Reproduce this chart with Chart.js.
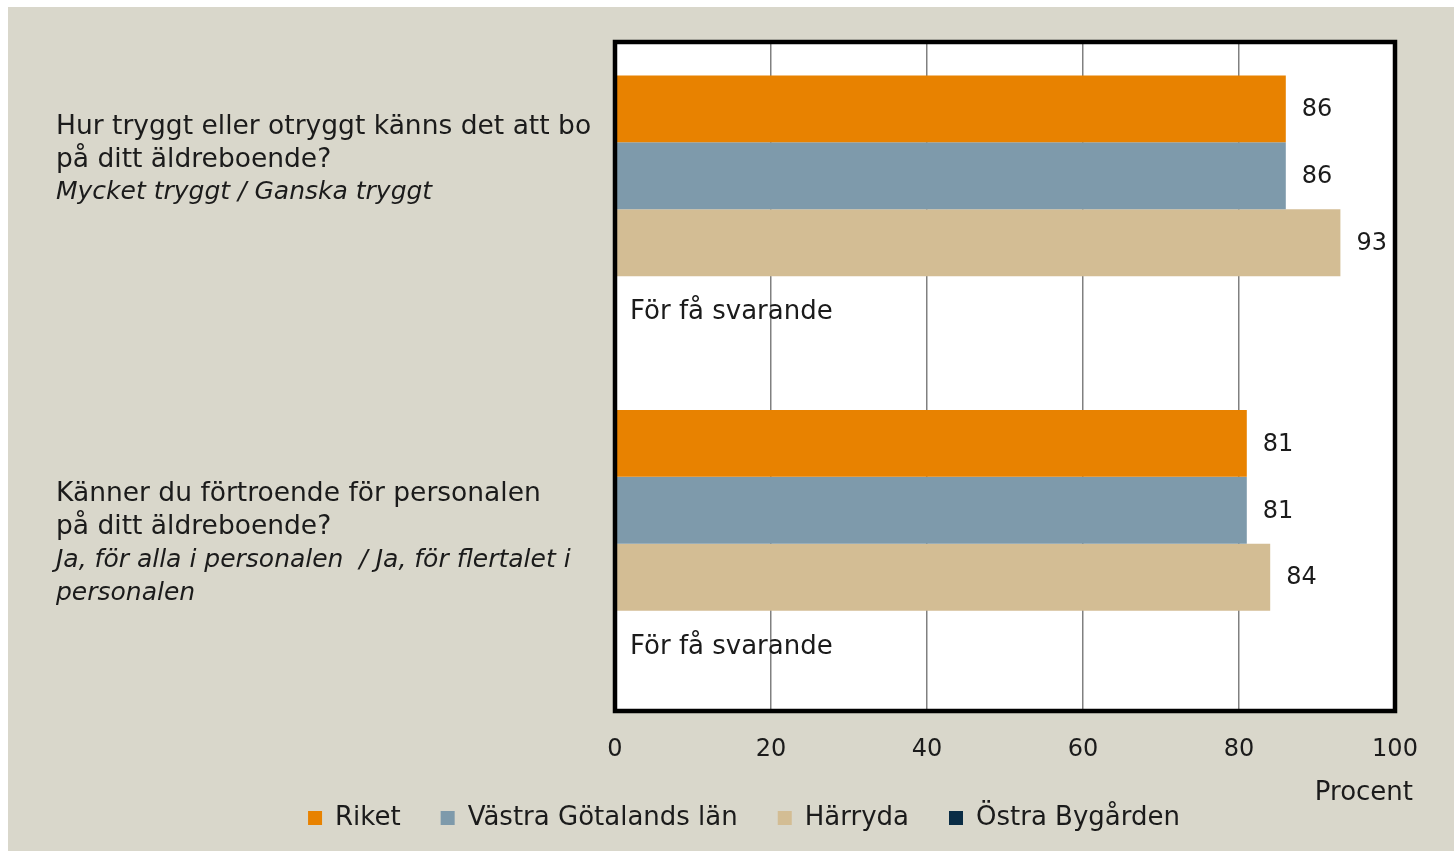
<!DOCTYPE html>
<html>
<head>
<meta charset="utf-8">
<script src="https://cdn.jsdelivr.net/npm/chart.js@4"></script>
<style>
  body { margin: 0; background: #ffffff; }
  #wrap { position: absolute; left: 8px; top: 7px; width: 1446px; height: 844px; background: #d9d7cb; }
</style>
</head>
<body>
<div id="wrap"><canvas id="myChart" width="1446" height="844"></canvas></div>
<script>
// frågor (rader i normal stil) och svarsalternativ (kursiv)
var questions = [
    ['Hur tryggt eller otryggt känns det att bo', 'på ditt äldreboende?'],
    ['Känner du förtroende för personalen', 'på ditt äldreboende?']
];
var answers = [
    ['Mycket tryggt / Ganska tryggt', '', '', ''],
    ['Ja, för alla i personalen  / Ja, för flertalet i', 'personalen']
];
var categories = ['Trygghet', 'Förtroende'];

var riket = [86, 81];
var vastraGotaland = [86, 81];
var harryda = [93, 84];
var ostraBygarden = [null, null];

var xTicks = [0, 20, 40, 60, 80, 100];
var xTitle = 'Procent';
var missingText = 'För få svarande';

var textColor = '#1b1b1b';
var font = 'DejaVu Sans';

// vit bakgrund i diagramytan
var plotBg = {
    id: 'plotBg',
    beforeDraw: function (chart) {
        var a = chart.chartArea;
        var ctx = chart.ctx;
        ctx.save();
        ctx.fillStyle = '#ffffff';
        ctx.fillRect(a.left, a.top, a.right - a.left, a.bottom - a.top);
        ctx.restore();
    }
};

// värden, ram, frågetexter
var extras = {
    id: 'extras',
    afterDatasetsDraw: function (chart) {
        var ctx = chart.ctx;
        var a = chart.chartArea;
        var xs = chart.scales.x;
        var ys = chart.scales.y;
        ctx.save();
        ctx.textBaseline = 'middle';
        ctx.textAlign = 'left';
        ctx.fillStyle = textColor;
        chart.data.datasets.forEach(function (ds, di) {
            var meta = chart.getDatasetMeta(di);
            meta.data.forEach(function (bar, i) {
                var v = ds.data[i];
                if (v === null) {
                    ctx.font = '26px "' + font + '"';
                    ctx.fillText(missingText, xs.getPixelForValue(0) + 15, bar.y + 3);
                } else {
                    ctx.font = '24px "' + font + '"';
                    ctx.fillText(String(v), bar.x + 16, bar.y + 1);
                }
            });
        });

        // ram
        ctx.strokeStyle = '#000000';
        ctx.lineWidth = 4.5;
        ctx.strokeRect(a.left, a.top, a.right - a.left, a.bottom - a.top);

        // frågor till vänster
        var lh = 33;
        for (var c = 0; c < questions.length; c++) {
            var lines = questions[c].length + answers[c].length;
            var cy = ys.getPixelForValue(c);
            var y = cy - (lines - 1) * lh / 2;
            ctx.font = '26.5px "' + font + '"';
            for (var q = 0; q < questions[c].length; q++) {
                ctx.fillText(questions[c][q], 48, y);
                y += lh;
            }
            ctx.font = 'italic 25px "' + font + '"';
            for (var s = 0; s < answers[c].length; s++) {
                ctx.fillText(answers[c][s], 48, y);
                y += lh;
            }
        }

        // axeltitel
        ctx.font = '26px "' + font + '"';
        ctx.textAlign = 'right';
        ctx.fillText(xTitle, a.right + 18, a.bottom + 82);
        ctx.restore();
    }
};

var ctx = document.getElementById('myChart').getContext('2d');
var myChart = new Chart(ctx, {
    type: 'bar',
    data: {
        labels: categories,
        datasets: [
            { label: 'Riket', data: riket, backgroundColor: '#e88200', borderWidth: 0 },
            { label: 'Västra Götalands län', data: vastraGotaland, backgroundColor: '#7e9aab', borderWidth: 0 },
            { label: 'Härryda', data: harryda, backgroundColor: '#d3bd94', borderWidth: 0 },
            { label: 'Östra Bygården', data: ostraBygarden, backgroundColor: '#0a2c45', borderWidth: 0 }
        ]
    },
    options: {
        indexAxis: 'y',
        responsive: false,
        animation: false,
        devicePixelRatio: 1,
        layout: { padding: { left: 85, right: 59, top: 35, bottom: 10 } },
        datasets: { bar: { barPercentage: 1, categoryPercentage: 0.8 } },
        scales: {
            x: {
                min: 0,
                max: 100,
                afterBuildTicks: function (scale) {
                    scale.ticks = xTicks.map(function (v) { return { value: v }; });
                },
                afterFit: function (scale) { scale.height = 54; },
                border: { display: false },
                grid: { color: '#808080', lineWidth: 1.5, drawTicks: false },
                ticks: { padding: 24, color: textColor, font: { family: font, size: 24 }, maxRotation: 0 }
            },
            y: {
                afterFit: function (scale) { scale.width = 522; },
                border: { display: false },
                grid: { display: false },
                ticks: { display: false }
            }
        },
        plugins: {
            legend: {
                position: 'bottom',
                labels: {
                    boxWidth: 14,
                    boxHeight: 14,
                    padding: 40,
                    color: textColor,
                    font: { family: font, size: 26 }
                }
            },
            tooltip: { enabled: false }
        }
    },
    plugins: [plotBg, extras]
});
</script>
</body>
</html>
